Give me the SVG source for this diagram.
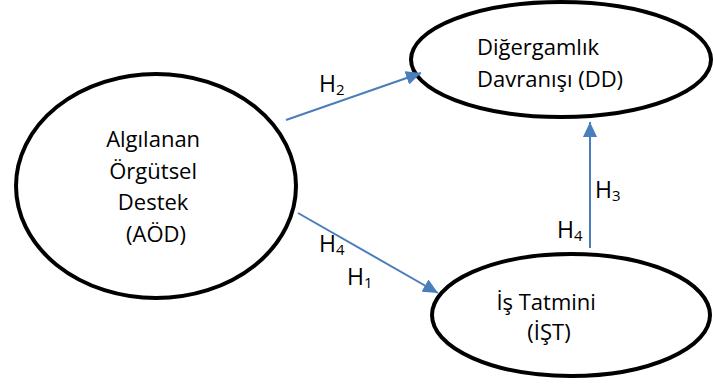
<svg xmlns="http://www.w3.org/2000/svg" width="713" height="385" viewBox="0 0 713 385">
  <style>
    .node { fill: #ffffff; stroke: #000000; stroke-width: 4; }
    .label { font-family: "Open Sans", "Liberation Sans", sans-serif; font-size: 22px; fill: #000000; }
    .hyp { font-family: "Open Sans", "Liberation Sans", sans-serif; font-size: 23px; fill: #000000; }
    .sub { font-size: 15px; }
    .edge { stroke: #4A7EBB; stroke-width: 2; fill: none; marker-end: url(#arrow); }
  </style>
  <defs>
    <marker id="arrow" markerUnits="userSpaceOnUse" markerWidth="16" markerHeight="14" refX="15" refY="7" orient="auto">
      <path d="M0,0 L15,7 L0,14 z" fill="#4A7EBB"/>
    </marker>
  </defs>
  <rect width="713" height="385" fill="#ffffff"/>

  <g id="node-aod">
    <ellipse class="node" cx="156" cy="186" rx="140" ry="112"/>
    <text class="label" text-anchor="middle">
      <tspan x="156" y="147">Algılanan</tspan>
      <tspan x="156" y="178.5">Örgütsel</tspan>
      <tspan x="156" y="210">Destek</tspan>
      <tspan x="156" y="241.5">(AÖD)</tspan>
    </text>
  </g>

  <g id="node-dd">
    <ellipse class="node" cx="561" cy="59.5" rx="150" ry="57.5"/>
    <text class="label">
      <tspan x="477" y="55">Diğergamlık</tspan>
      <tspan x="477" y="87">Davranışı (DD)</tspan>
    </text>
  </g>

  <g id="node-ist">
    <ellipse class="node" cx="571" cy="315" rx="139" ry="61"/>
    <text class="label" text-anchor="middle">
      <tspan x="549" y="310">İş Tatmini</tspan>
      <tspan x="549" y="340">(İŞT)</tspan>
    </text>
  </g>

  <g id="connectors">
    <line class="edge" x1="286" y1="120" x2="421" y2="73"/>
    <line class="edge" x1="298" y1="213" x2="438" y2="293"/>
    <line class="edge" x1="590" y1="248" x2="590" y2="122"/>
  </g>

  <g id="labels">
    <text class="hyp" x="319" y="92">H<tspan class="sub" dy="3">2</tspan></text>
    <text class="hyp" x="319" y="252">H<tspan class="sub" dy="3">4</tspan></text>
    <text class="hyp" x="347" y="285">H<tspan class="sub" dy="3">1</tspan></text>
    <text class="hyp" x="595" y="198">H<tspan class="sub" dy="3">3</tspan></text>
    <text class="hyp" x="557" y="238">H<tspan class="sub" dy="3">4</tspan></text>
  </g>
</svg>
